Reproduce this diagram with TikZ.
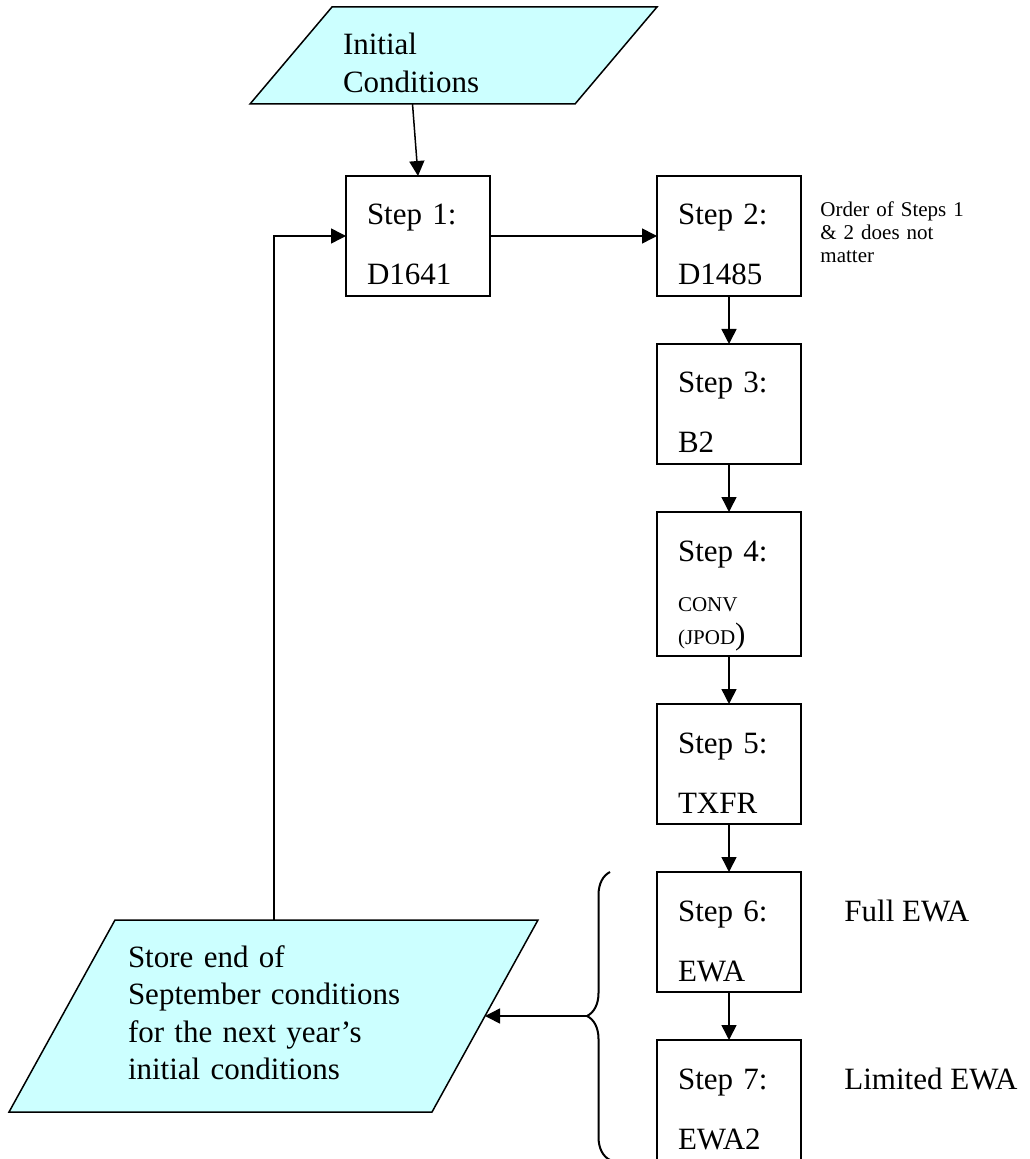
\documentclass[tikz,border=0pt]{standalone}
\usepackage{fontspec}
\setmainfont{Liberation Serif}
\usetikzlibrary{positioning,calc,shapes.geometric,arrows.meta,decorations.pathreplacing}
\definecolor{paracyan}{RGB}{204,255,255}
\newcommand{\stepfont}{\fontsize{15.5pt}{30pt}\selectfont}
\newcommand{\parafont}{\fontsize{15.5pt}{18.75pt}\selectfont}
\newcommand{\notefont}{\fontsize{10.5pt}{11.5pt}\selectfont}

\begin{document}
\begin{tikzpicture}[x=0.5pt,y=-0.5pt,
  stepbox/.style={draw,line width=1pt,rectangle,align=left,text width=51pt,inner xsep=10.5pt,inner ysep=0pt,outer sep=0pt,text height=24.5pt,text depth=35.5pt,font=\stepfont},
  para/.style={draw,line width=0.75pt,fill=paracyan,trapezium,align=left,inner ysep=0pt,outer sep=0pt,font=\parafont,anchor=top left corner},
  arr/.style={-{Triangle[length=7.5pt,width=7.5pt]},line width=0.75pt},
  side/.style={anchor=base west,inner sep=0pt,font=\stepfont}]
\useasboundingbox (0,0) rectangle (1029,1159);

\node[para,trapezium left angle=49.8,trapezium right angle=130.2,text width=110.5pt,inner xsep=5.5pt,text height=24pt,text depth=24.5pt] (init) at (332,7) {Initial\\Conditions};

\node[stepbox] (step1) at (418,236) {Step 1:\\D1641};
\node[stepbox,right=83.5pt of step1] (step2) {Step 2:\\D1485};
\node[stepbox,below=24pt of step2] (step3) {Step 3:\\B2};
\node[stepbox,below=24pt of step3,text depth=47.5pt] (step4) {Step 4:\\[-5pt]{\notefont CONV}\\[-13.5pt]{\notefont (JPOD}{)}};
\node[stepbox,below=24pt of step4] (step5) {Step 5:\\TXFR};
\node[stepbox,below=24pt of step5] (step6) {Step 6:\\EWA};
\node[stepbox,below=24pt of step6] (step7) {Step 7:\\EWA2};

\node[anchor=base west,align=left,text width=72pt,inner sep=0pt,font=\notefont] (note) at ([xshift=9.5pt,yshift=4pt]step2.base east) {Order of Steps 1\\\& 2 does not\\matter};
\node[side] (fullewa) at ([xshift=21.5pt]step6.base east) {Full EWA};
\node[side] (limewa) at ([xshift=21.5pt]step7.base east) {Limited EWA};

\node[para,trapezium left angle=61.1,trapezium right angle=118.9,text width=145.5pt,inner xsep=6.5pt,text height=23.5pt,text depth=72.5pt] (store) at (115,920) {Store end of\\September conditions\\for the next year's\\initial conditions};

\draw[arr] (init.bottom side) -- (step1.north);
\draw[arr] (step1) -- (step2);
\foreach \a/\b in {2/3,3/4,4/5,5/6,6/7}
\draw[arr] (step\a) -- (step\b);
\draw[arr] ($(store.top left corner)!0.376!(store.top right corner)$) |- (step1.west);

\coordinate (bracetop) at ([xshift=-23.5pt]step6.north west);
\coordinate (bracebot) at ([xshift=-23.5pt]step7.south west);
\coordinate (bracetip) at ($(bracetop)!0.5!(bracebot)+(-11.5pt,0pt)$);
\draw[line width=1pt,decorate,decoration={brace,amplitude=11.5pt}] (bracebot) -- (bracetop);
\draw[arr] (bracetip) -- (store.right side);
\end{tikzpicture}
\end{document}
